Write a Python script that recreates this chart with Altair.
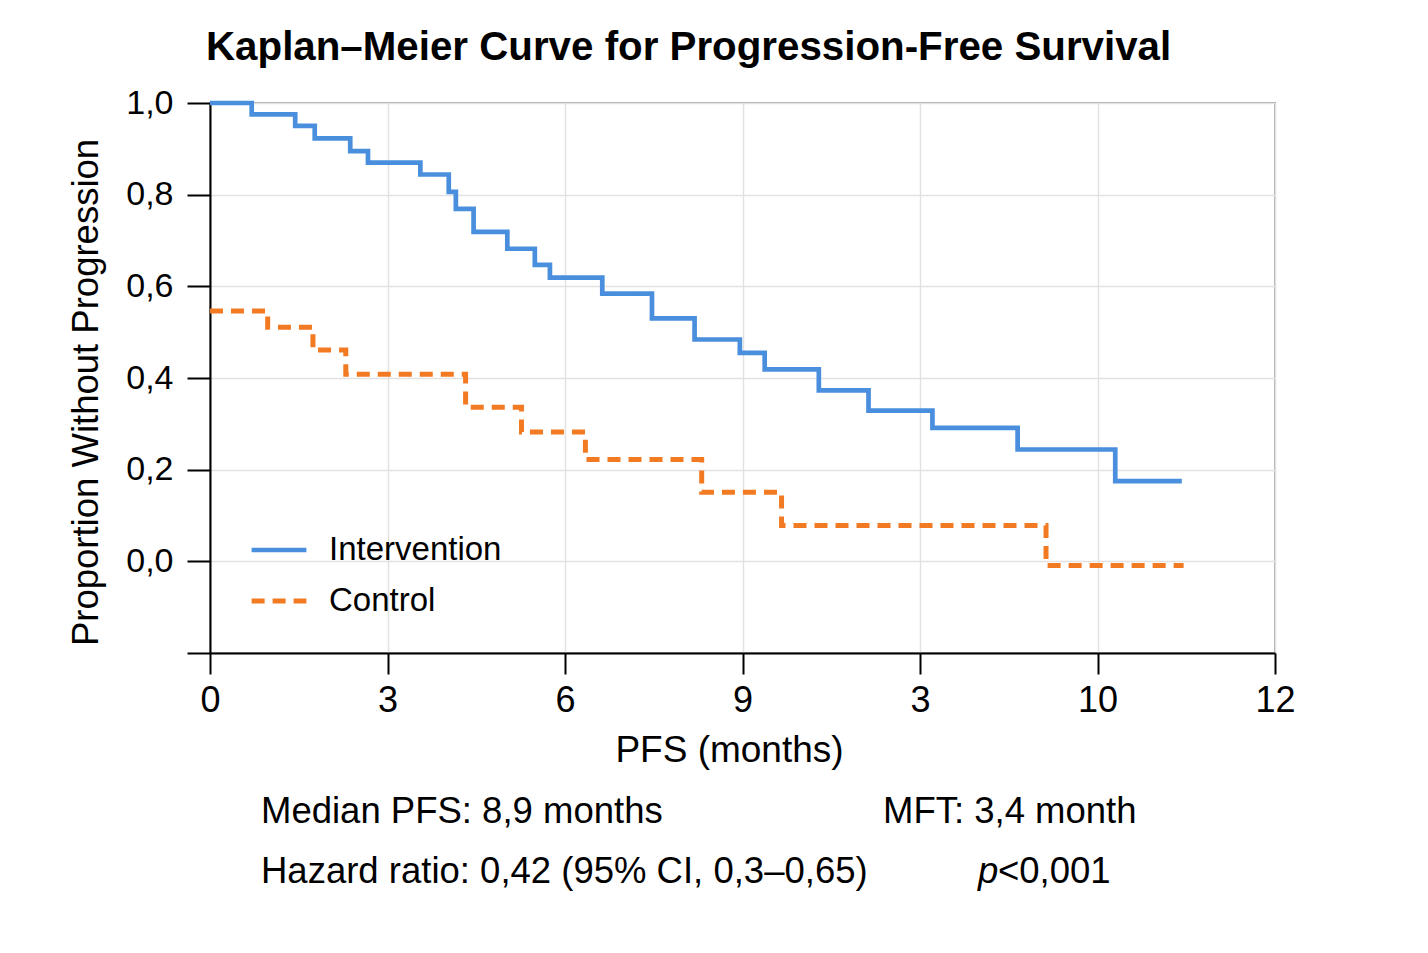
import altair as alt
import pandas as pd

# ---- data ----
groups = ["Intervention", "Control"]
int_time = [0, 0.47, 0.96, 1.18, 1.58, 1.78, 2.37, 2.69, 2.77, 2.97, 3.35, 3.66,
            3.83, 4.42, 4.98, 5.46, 5.97, 6.25, 6.86, 7.42, 8.14, 9.10, 10.20, 10.95]
int_surv = [1.0, 0.975, 0.95, 0.923, 0.895, 0.870, 0.844, 0.806, 0.769, 0.719, 0.682, 0.647,
            0.619, 0.584, 0.530, 0.484, 0.455, 0.419, 0.373, 0.329, 0.291, 0.244, 0.175, 0.175]
ctl_time = [0, 0.65, 1.16, 1.53, 2.88, 3.51, 4.23, 5.54, 6.44, 9.42, 10.97]
ctl_surv = [0.546, 0.511, 0.461, 0.408, 0.336, 0.282, 0.222, 0.151, 0.078, -0.009, -0.009]

x_tick_values = [0, 2, 4, 6, 8, 10, 12]
x_tick_labels = ["0", "3", "6", "9", "3", "10", "12"]
y_tick_values = [-0.2, 0.0, 0.2, 0.4, 0.6, 0.8, 1.0]

title_text = "Kaplan\u2013Meier Curve for Progression-Free Survival"
x_title = "PFS (months)"
y_title = "Proportion Without Progression"
note1 = "Median PFS: 8,9 months"
note2 = "MFT: 3,4 month"
note3 = "Hazard ratio: 0,42 (95% CI, 0,3\u20130,65)"
note4_p = "p"
note4_rest = "<0,001"

colors = ["#4a8fde", "#f27a22"]
widths = [4.7, 5]

rows = []
for i, (t, s) in enumerate(zip(int_time, int_surv)):
    rows.append({"group": groups[0], "time": t, "surv": s, "order": i})
for i, (t, s) in enumerate(zip(ctl_time, ctl_surv)):
    rows.append({"group": groups[1], "time": t, "surv": s, "order": i})
df = pd.DataFrame(rows)

FONT = "Liberation Sans"
NOTE_SIZE = 36.5

x_label_expr = "[" + ",".join("'" + l + "'" for l in x_tick_labels) + "][round(datum.value/2)]"
y_label_expr = "datum.value < -0.05 ? '' : replace(format(datum.value, '.1f'), '.', ',')"

lines = alt.Chart(df).mark_line(interpolate="step-after", strokeCap="butt").encode(
    x=alt.X("time:Q", scale=alt.Scale(domain=[0, 12], nice=False),
            axis=alt.Axis(values=x_tick_values, labelExpr=x_label_expr, title=x_title,
                          tickSize=21, labelPadding=9, titlePadding=14, labelFlush=False,
                          labelFontSize=36, titleFontSize=37, titleX=519)),
    y=alt.Y("surv:Q", scale=alt.Scale(domain=[-0.2, 1.0], nice=False, zero=False),
            axis=alt.Axis(values=y_tick_values, labelExpr=y_label_expr, title=y_title,
                          tickSize=23, labelPadding=14, titlePadding=20,
                          labelFontSize=34, titleFontSize=36.5, titleY=289)),
    color=alt.Color("group:N", scale=alt.Scale(domain=groups, range=colors),
                    legend=alt.Legend(title=None, orient="none", legendX=39, legendY=417,
                                      symbolType="stroke", symbolSize=3000,
                                      symbolStrokeWidth=4.5, labelFontSize=33,
                                      labelOffset=20, rowPadding=4, labelFont=FONT,
                                      labelColor="black", labelLimit=500)),
    strokeDash=alt.StrokeDash("group:N", scale=alt.Scale(domain=groups, range=[[1, 0], [13, 8]]),
                              legend=None),
    strokeWidth=alt.StrokeWidth("group:N", scale=alt.Scale(domain=groups, range=widths),
                                legend=None),
    order="order:Q",
)

def note(text, x, y, italic=False):
    return alt.Chart(pd.DataFrame({"t": [text]})).mark_text(
        align="left", baseline="alphabetic", fontSize=NOTE_SIZE, font=FONT, color="black",
        fontStyle="italic" if italic else "normal",
    ).encode(text="t:N", x=alt.value(x), y=alt.value(y))

chart = alt.layer(
    lines,
    note(note1, 51, 720),
    note(note2, 673, 720),
    note(note3, 51, 780),
    note(note4_p, 768, 780, italic=True),
    note(note4_rest, 788, 780),
).properties(
    width=1065, height=550,
    title=alt.Title(title_text, anchor="start", frame="group", fontSize=40.3, fontWeight="bold",
                    font=FONT, color="black", offset=18, dx=-4),
    padding={"left": 60, "top": 19, "right": 20, "bottom": 10},
).configure_view(
    stroke="#aaaaaa", strokeWidth=2
).configure_axis(
    domainColor="black", domainWidth=2, tickColor="black", tickWidth=2,
    gridColor="#e2e2e2", gridWidth=1.5,
    labelFont=FONT, labelColor="black",
    titleFont=FONT, titleFontWeight="normal", titleColor="black",
)

chart.save("out.html", embed_options={"renderer": "svg", "actions": False})
